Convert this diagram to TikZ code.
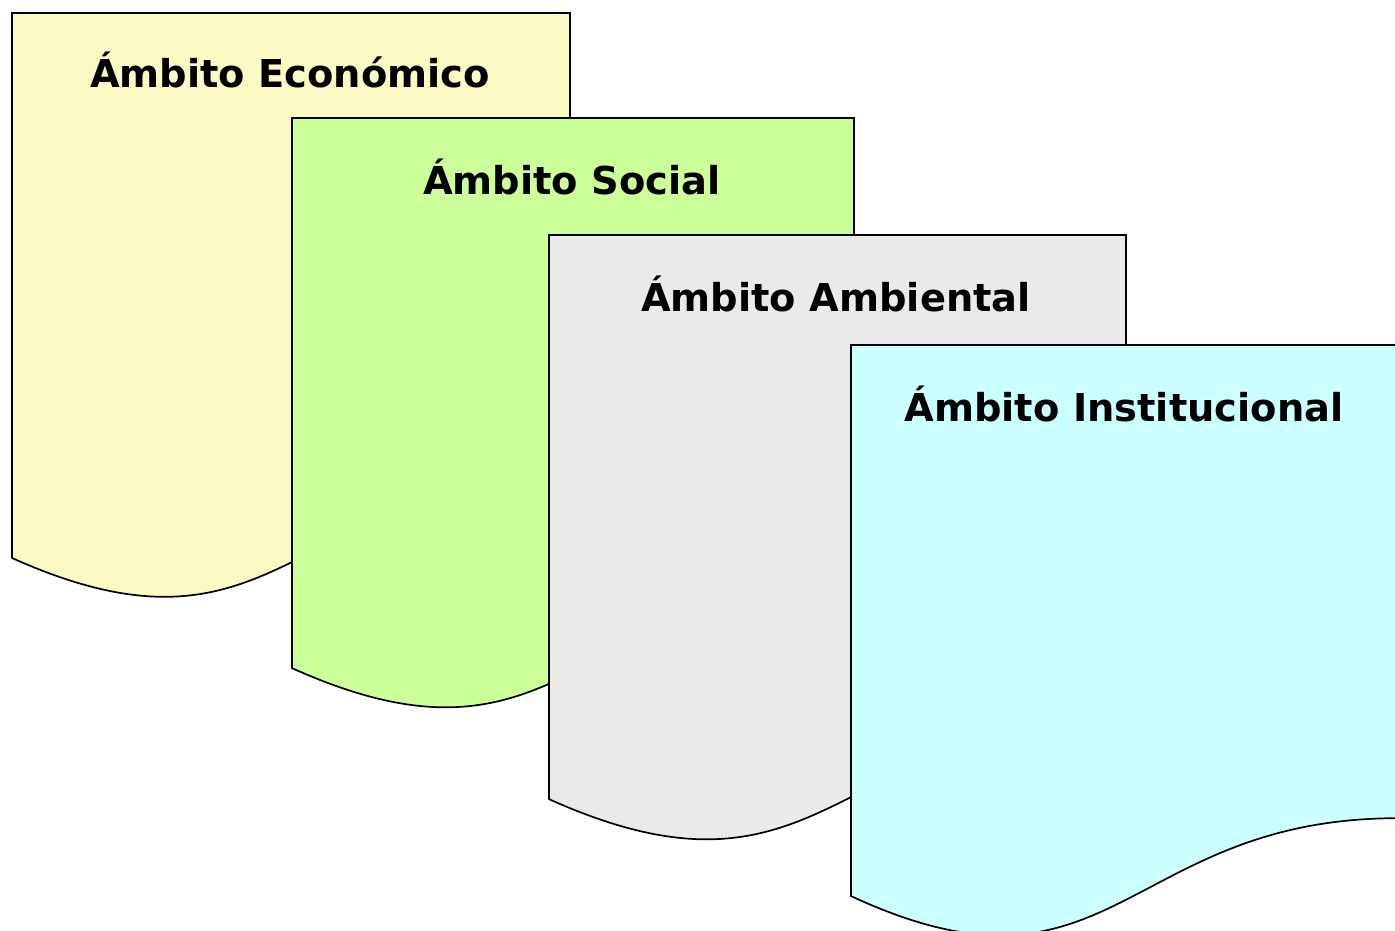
\documentclass[tikz,border=0pt]{standalone}
\usepackage{fontspec}
\setmainfont{DejaVu Sans}
\definecolor{econ}{RGB}{252,250,196}
\definecolor{soc}{RGB}{204,255,153}
\definecolor{amb}{RGB}{234,234,234}
\definecolor{inst}{RGB}{204,255,255}
\begin{document}
\begin{tikzpicture}[x=1pt,y=-1pt,
  docline/.style={draw=black, line width=1.7pt},
  title/.style={font=\fontsize{38.4}{46}\selectfont\bfseries, inner sep=0pt}]
\useasboundingbox (0,0) rectangle (1395,931);
\path[docline, fill=econ] (12,13) -- (570,13) -- (570,{13+0.802*583.5})
  .. controls (291,{13+0.802*583.5}) and (280,{13+1.14*583.5}) .. (12,{13+0.934*583.5}) -- cycle;
\node[title, anchor=base] (econ) at (290,88) {Ámbito Económico};
\path[docline, fill=soc] (292,118) -- (854,118) -- (854,{118+0.802*589})
  .. controls (573,{118+0.802*589}) and (562,{118+1.14*589}) .. (292,{118+0.934*589}) -- cycle;
\node[title, anchor=base] (soc) at (572,194) {Ámbito Social};
\path[docline, fill=amb] (549,235) -- (1126,235) -- (1126,{235+0.802*604})
  .. controls (837.5,{235+0.802*604}) and (826,{235+1.14*604}) .. (549,{235+0.934*604}) -- cycle;
\node[title, anchor=base] (amb) at (836,311) {Ámbito Ambiental};
\path[docline, fill=inst] (851,345) -- (1398,345) -- (1398,{345+0.802*590})
  .. controls (1124.5,{345+0.802*590}) and (1113,{345+1.14*590}) .. (851,{345+0.934*590}) -- cycle;
\node[title, anchor=base] (inst) at (1124,421) {Ámbito Institucional};
\end{tikzpicture}
\end{document}
